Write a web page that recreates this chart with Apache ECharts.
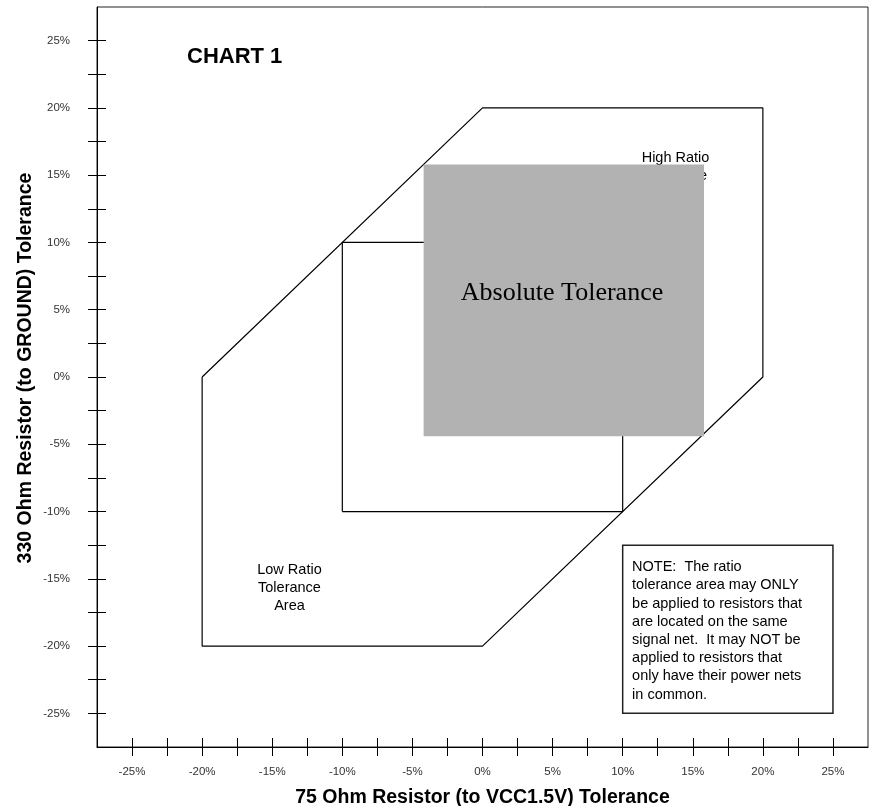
<!DOCTYPE html>
<html>
<head>
<meta charset="utf-8">
<script src="https://cdn.jsdelivr.net/npm/echarts@6/dist/echarts.min.js"></script>
<style>
html,body{margin:0;padding:0;background:#fff;}
#chart{width:870px;height:806px;}
</style>
</head>
<body>
<div id="chart"></div>
<script>
// ---- data ----
const xAxisName = '75 Ohm Resistor (to VCC1.5V) Tolerance';
const yAxisName = '330 Ohm Resistor (to GROUND) Tolerance';
const chartTitle = 'CHART 1';
const axisMin = -27.5;
const axisMax = 27.5;
const tickValues = [-25, -22.5, -20, -17.5, -15, -12.5, -10, -7.5, -5, -2.5, 0, 2.5, 5, 7.5, 10, 12.5, 15, 17.5, 20, 22.5, 25];
const labelValues = [-25, -20, -15, -10, -5, 0, 5, 10, 15, 20, 25];

// ratio tolerance boundary (hexagon), [x%, y%]
const ratioBoundary = [[-20, 0], [0, 20], [20, 20], [20, 0], [0, -20], [-20, -20], [-20, 0]];
// inner +/-10% square
const innerSquare = [[-10, -10], [-10, 10], [10, 10], [10, -10], [-10, -10]];
// absolute tolerance block: [x0, y0, x1, y1]
const absoluteBlock = [[-4.2, -4.4, 15.8, 15.8]];
const absoluteLabel = 'Absolute Tolerance';
const absoluteLabelAt = [5.67, 6.2];
// note box: [x0, y0, x1, y1]
const noteBox = [[10, -25, 25, -12.5]];
const noteText = 'NOTE:  The ratio\ntolerance area may ONLY\nbe applied to resistors that\nare located on the same\nsignal net.  It may NOT be\napplied to resistors that\nonly have their power nets\nin common.';
// area labels: [x, y, text]
const areaLabels = [
  [-13.77, -15.67, 'Low Ratio\nTolerance\nArea'],
  [13.77, 14.97, 'High Ratio\nTolerance\nArea']
];

// ---- chart ----
const FONT = '"Liberation Sans", Arial, Helvetica, sans-serif';
const chart = echarts.init(document.getElementById('chart'), null, {renderer: 'canvas'});

function valueAxis(extra) {
  return Object.assign({
    type: 'value',
    min: axisMin,
    max: axisMax,
    splitLine: {show: false},
    axisLine: {show: true, onZero: false, lineStyle: {color: '#000', width: 1}},
    axisTick: {show: true, inside: false, length: 9, customValues: tickValues, lineStyle: {color: '#000', width: 1}},
    axisLabel: {show: true, customValues: labelValues, formatter: v => v + '%', color: '#333', fontSize: 11.5, fontFamily: FONT},
  }, extra);
}

const option = {
  animation: false,
  backgroundColor: '#fff',
  title: {
    text: chartTitle,
    left: 187, top: 46, padding: 0,
    textStyle: {fontSize: 22, fontWeight: 'bold', color: '#000', fontFamily: FONT}
  },
  grid: {
    left: 97, right: 2, top: 7, bottom: 59,
    outerBoundsMode: 'none',
    containLabel: false,
    show: true, borderColor: '#222', borderWidth: 1, backgroundColor: 'transparent'
  },
  xAxis: [
    valueAxis({
      position: 'bottom',
      axisLabel: {show: true, customValues: labelValues, formatter: v => v + '%', color: '#333', fontSize: 11.5, fontFamily: FONT, margin: 19}
    }),
    valueAxis({
      position: 'bottom',
      name: xAxisName, nameLocation: 'middle', nameGap: 41, nameMoveOverlap: false,
      nameTextStyle: {fontSize: 19.5, fontWeight: 'bold', color: '#000', fontFamily: FONT},
      axisLine: {show: false, onZero: false},
      axisTick: {show: true, inside: true, length: 9, customValues: tickValues, lineStyle: {color: '#000', width: 1}},
      axisLabel: {show: false}
    })
  ],
  yAxis: [
    valueAxis({
      position: 'left',
      axisLabel: {show: true, customValues: labelValues, formatter: v => v + '%', color: '#333', fontSize: 11.5, fontFamily: FONT, margin: 27}
    }),
    valueAxis({
      position: 'left',
      name: yAxisName, nameLocation: 'middle', nameGap: 61, nameRotate: 90, nameMoveOverlap: false,
      nameTextStyle: {fontSize: 19.5, fontWeight: 'bold', color: '#000', fontFamily: FONT, padding: [0, 0, 0, 18]},
      axisLine: {show: false, onZero: false},
      axisTick: {show: true, inside: true, length: 9, customValues: tickValues, lineStyle: {color: '#000', width: 1}},
      axisLabel: {show: false}
    })
  ],
  series: [
    {
      type: 'scatter', silent: true, z: 1,
      data: areaLabels, symbolSize: 0,
      itemStyle: {opacity: 1},
      label: {
        show: true, position: 'inside', formatter: p => p.value[2], opacity: 1,
        fontSize: 14.5, lineHeight: 17.7, color: '#000', fontFamily: FONT, align: 'center'
      }
    },
    {
      type: 'line', silent: true, z: 2,
      data: ratioBoundary, showSymbol: false, symbol: 'none',
      lineStyle: {color: '#000', width: 1.2}
    },
    {
      type: 'line', silent: true, z: 2,
      data: innerSquare, showSymbol: false, symbol: 'none',
      lineStyle: {color: '#000', width: 1.2}
    },
    {
      type: 'custom', silent: true, z: 5,
      data: absoluteBlock,
      encode: {x: [0, 2], y: [1, 3]},
      renderItem: function (params, api) {
        const p0 = api.coord([api.value(0), api.value(1)]);
        const p1 = api.coord([api.value(2), api.value(3)]);
        const c = api.coord(absoluteLabelAt);
        return {
          type: 'group',
          children: [
            {type: 'rect', shape: {x: p0[0], y: p1[1], width: p1[0] - p0[0], height: p0[1] - p1[1]}, style: {fill: '#b2b2b2'}},
            {type: 'text', style: {text: absoluteLabel, x: c[0], y: c[1], align: 'center', verticalAlign: 'middle',
              font: '26px "Liberation Serif", "Times New Roman", serif', fill: '#000'}}
          ]
        };
      }
    },
    {
      type: 'custom', silent: true, z: 5,
      data: noteBox,
      encode: {x: [0, 2], y: [1, 3]},
      renderItem: function (params, api) {
        const p0 = api.coord([api.value(0), api.value(1)]);
        const p1 = api.coord([api.value(2), api.value(3)]);
        return {
          type: 'group',
          children: [
            {type: 'rect', shape: {x: p0[0], y: p1[1], width: p1[0] - p0[0], height: p0[1] - p1[1]}, style: {fill: '#fff', stroke: '#222', lineWidth: 1.5}},
            {type: 'text', style: {text: noteText, x: p0[0] + 9.4, y: p1[1] + 13, align: 'left', verticalAlign: 'top',
              font: '14.5px "Liberation Sans", Arial, sans-serif', lineHeight: 18.2, fill: '#000'}}
          ]
        };
      }
    }
  ]
};
chart.setOption(option);
</script>
</body>
</html>
